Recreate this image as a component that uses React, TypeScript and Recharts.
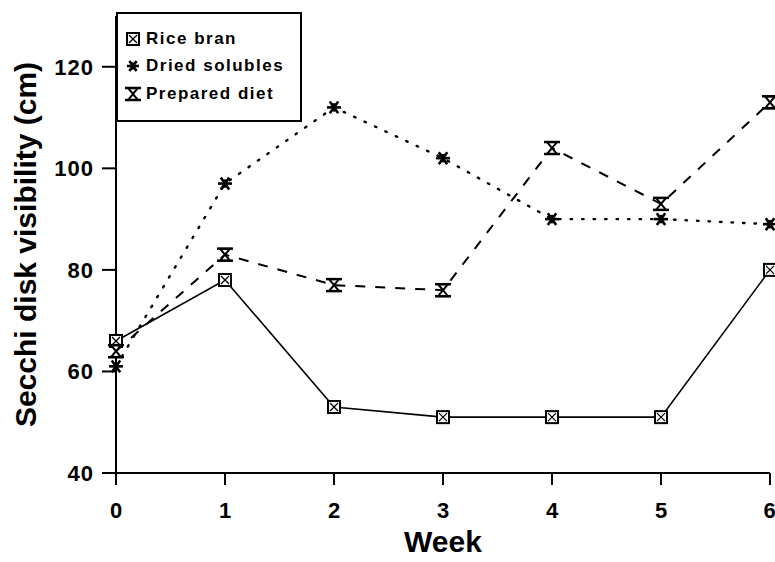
import React from 'react';
import { LineChart, Line, XAxis, YAxis } from 'recharts';

const weeks = [0, 1, 2, 3, 4, 5, 6];
const riceBran = [66, 78, 53, 51, 51, 51, 80];
const driedSolubles = [61, 97, 112, 102, 90, 90, 89];
const preparedDiet = [64, 83, 77, 76, 104, 93, 113];
const yTicks = [40, 60, 80, 100, 120];

const data = weeks.map((w, i) => ({
  week: w,
  rice: riceBran[i],
  dried: driedSolubles[i],
  prepared: preparedDiet[i],
}));

const FONT = '"Liberation Sans", Arial, Helvetica, sans-serif';

const BoxX = ({ cx, cy, s = 6 }: any) => (
  <g>
    <rect x={cx - s} y={cy - s} width={s * 2} height={s * 2} fill="#fff" stroke="#000" strokeWidth={2} />
    <line x1={cx - s + 2} y1={cy - s + 2} x2={cx + s - 2} y2={cy + s - 2} stroke="#000" strokeWidth={1.3} />
    <line x1={cx + s - 2} y1={cy - s + 2} x2={cx - s + 2} y2={cy + s - 2} stroke="#000" strokeWidth={1.3} />
  </g>
);

const Star = ({ cx, cy, s = 7 }: any) => (
  <g stroke="#000" strokeWidth={2.6}>
    <line x1={cx - s} y1={cy} x2={cx + s} y2={cy} />
    <line x1={cx - s * 0.6} y1={cy - s * 0.85} x2={cx + s * 0.6} y2={cy + s * 0.85} />
    <line x1={cx + s * 0.6} y1={cy - s * 0.85} x2={cx - s * 0.6} y2={cy + s * 0.85} />
    <line x1={cx} y1={cy - s * 0.6} x2={cx} y2={cy + s * 0.6} />
  </g>
);

const Hourglass = ({ cx, cy, s = 6 }: any) => (
  <g>
    <path
      d={`M${cx - s + 1},${cy - s} L${cx + s - 1},${cy - s} L${cx},${cy} Z M${cx - s + 1},${cy + s} L${cx + s - 1},${cy + s} L${cx},${cy} Z`}
      fill="#fff"
      stroke="#000"
      strokeWidth={2}
    />
    <line x1={cx - s - 2} y1={cy - s} x2={cx + s + 2} y2={cy - s} stroke="#000" strokeWidth={2.5} />
    <line x1={cx - s - 2} y1={cy + s} x2={cx + s + 2} y2={cy + s} stroke="#000" strokeWidth={2.5} />
  </g>
);

const dotOf = (Shape: any) => (props: any) => {
  const { cx, cy, index } = props;
  return <Shape key={index} cx={cx} cy={cy} />;
};

const YTick = ({ y, payload }: any) => (
  <text
    x={94}
    y={y}
    dy="0.36em"
    textAnchor="end"
    fill="#000"
    fontFamily={FONT}
    fontWeight={700}
    fontSize={22}
    letterSpacing={1}
  >
    {payload.value}
  </text>
);

const legendItems = [
  { name: 'Rice bran', Icon: BoxX },
  { name: 'Dried solubles', Icon: Star },
  { name: 'Prepared diet', Icon: Hourglass },
];

const LegendBox = () => (
  <div
    style={{
      position: 'absolute',
      left: 116,
      top: 12,
      border: '2px solid #000',
      background: '#fff',
      width: 186,
      height: 110,
      boxSizing: 'border-box',
      padding: '11px 0 0 6px',
      fontFamily: FONT,
      fontWeight: 700,
      fontSize: 17,
      letterSpacing: 1.5,
    }}
  >
    {legendItems.map(({ name, Icon }) => (
      <div key={name} style={{ display: 'flex', alignItems: 'center', height: 27.5 }}>
        <svg width={18} height={18} style={{ marginRight: 4 }}>
          <Icon cx={9} cy={9} s={6} />
        </svg>
        <span>{name}</span>
      </div>
    ))}
  </div>
);

export default function App() {
  return (
    <div style={{ position: 'absolute', left: 0, top: 0, width: 775, height: 562, background: '#fff' }}>
      <LineChart width={775} height={562} data={data} margin={{ top: 16, right: 5, bottom: 0, left: 0 }}>
        <XAxis
          dataKey="week"
          type="number"
          domain={[0, 6]}
          ticks={weeks}
          height={89}
          stroke="#000"
          strokeWidth={2}
          tickSize={12}
          tickMargin={17}
          tick={{ fill: '#000', fontFamily: FONT, fontWeight: 700, fontSize: 22 }}
          label={{
            value: 'Week',
            position: 'bottom',
            offset: -31,
            fill: '#000',
            fontFamily: FONT,
            fontWeight: 700,
            fontSize: 30,
          }}
        />
        <YAxis
          type="number"
          domain={[40, 130]}
          ticks={yTicks}
          width={116}
          stroke="#000"
          strokeWidth={2}
          tickSize={14}
          tick={<YTick />}
          label={{
            value: 'Secchi disk visibility (cm)',
            angle: -90,
            position: 'insideLeft',
            offset: 25,
            fill: '#000',
            fontFamily: FONT,
            fontWeight: 700,
            fontSize: 30,
            style: { textAnchor: 'middle' },
          }}
        />
        <Line
          dataKey="rice"
          stroke="#000"
          strokeWidth={1.6}
          dot={dotOf(BoxX)}
          activeDot={false}
          isAnimationActive={false}
        />
        <Line
          dataKey="dried"
          stroke="#000"
          strokeWidth={2.4}
          strokeDasharray="1.5 10"
          strokeLinecap="round"
          dot={dotOf(Star)}
          activeDot={false}
          isAnimationActive={false}
        />
        <Line
          dataKey="prepared"
          stroke="#000"
          strokeWidth={2}
          strokeDasharray="10 10"
          dot={dotOf(Hourglass)}
          activeDot={false}
          isAnimationActive={false}
        />
      </LineChart>
      <LegendBox />
    </div>
  );
}
